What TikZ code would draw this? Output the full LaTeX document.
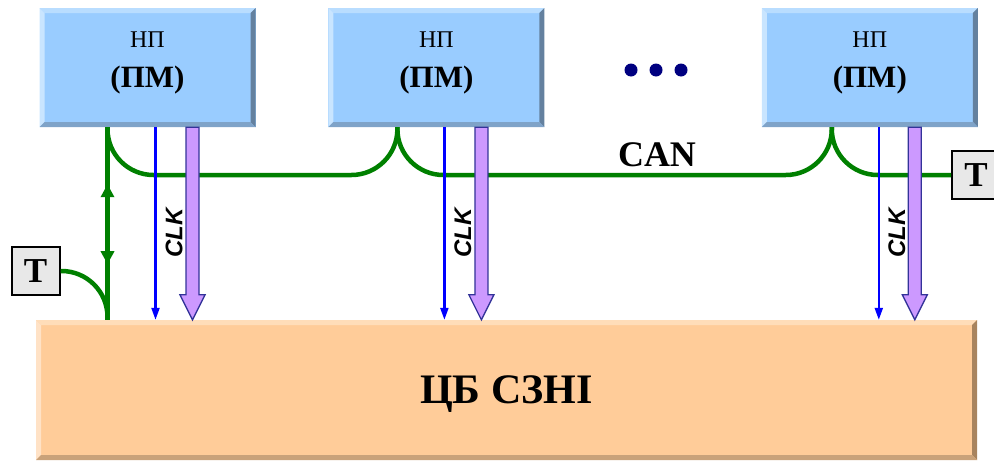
\documentclass[tikz,border=0pt]{standalone}
\usepackage{fontspec}
\setmainfont{Liberation Serif}
\newfontfamily\clkfont{Liberation Sans}
\usetikzlibrary{arrows.meta,calc,positioning,decorations.markings}

\definecolor{npfill}{HTML}{99CCFF}
\definecolor{nptop}{HTML}{B9DDFF}
\definecolor{npleft}{HTML}{C9E5FF}
\definecolor{npright}{HTML}{64819F}
\definecolor{npbottom}{HTML}{7FA3C8}
\definecolor{zbfill}{HTML}{FFCC99}
\definecolor{zbtop}{HTML}{FFDDB9}
\definecolor{zbleft}{HTML}{FFE2C6}
\definecolor{zbright}{HTML}{A8845F}
\definecolor{zbbottom}{HTML}{C9A27A}
\definecolor{cangreen}{HTML}{008000}
\definecolor{clkblue}{HTML}{0000FF}
\definecolor{fatfill}{HTML}{CC99FF}
\definecolor{fatline}{HTML}{333399}
\definecolor{tfill}{HTML}{E8E8E8}
\definecolor{dotblue}{HTML}{000080}

\tikzset{
  bevelbox/.style n args={5}{fill=#1,path picture={
    \def\pb{path picture bounding box}
    \fill[#2] (\pb.north west) -- (\pb.north east) -- ([shift={(-5pt,-5pt)}]\pb.north east) -- ([shift={(5pt,-5pt)}]\pb.north west) -- cycle;
    \fill[#3] (\pb.north west) -- ([shift={(5pt,-5pt)}]\pb.north west) -- ([shift={(5pt,5pt)}]\pb.south west) -- (\pb.south west) -- cycle;
    \fill[#4] (\pb.north east) -- (\pb.south east) -- ([shift={(-5pt,5pt)}]\pb.south east) -- ([shift={(-5pt,-5pt)}]\pb.north east) -- cycle;
    \fill[#5] (\pb.south west) -- ([shift={(5pt,5pt)}]\pb.south west) -- ([shift={(-5pt,5pt)}]\pb.south east) -- (\pb.south east) -- cycle;}}
}

% thick lilac arrow: #1 top coordinate, #2 bottom node
\newcommand\fatarrow[2]{%
  \filldraw[fatarrow] ($(#1)+(-6.5,0)$) -- ($(#1 |- #2.north)+(-6.5,-25)$)
    -- ($(#1 |- #2.north)+(-12.5,-25)$) -- (#1 |- #2.north)
    -- ($(#1 |- #2.north)+(12.5,-25)$) -- ($(#1 |- #2.north)+(6.5,-25)$)
    -- ($(#1)+(6.5,0)$) -- cycle;}

\begin{document}
\begin{tikzpicture}[x=1pt,y=-1pt,
  npbox/.style={bevelbox={npfill}{nptop}{npleft}{npright}{npbottom},
    minimum width=216pt,minimum height=119pt,inner sep=0pt,align=center,
    text depth=16pt,font=\fontsize{24}{40}\selectfont},
  zbbox/.style={bevelbox={zbfill}{zbtop}{zbleft}{zbright}{zbbottom},
    minimum width=941pt,minimum height=140pt,inner sep=0pt,text depth=0pt,
    font=\fontsize{42}{48}\selectfont\bfseries},
  tbox/.style={draw=black,line width=2pt,fill=tfill,minimum width=48pt,
    minimum height=48pt,inner sep=0pt,font=\fontsize{35}{40}\selectfont\bfseries},
  bus/.style={draw=cangreen,color=cangreen,line width=4.5pt},
  clk/.style={draw=clkblue,color=clkblue,line width=2.2pt,
    -{Triangle[width=8pt,length=12pt]}},
  fatarrow/.style={fill=fatfill,draw=fatline,line width=1.3pt,line join=miter},
  clklabel/.style={rotate=90,inner sep=0pt,
    font=\clkfont\fontsize{24}{28}\selectfont\bfseries\itshape},
  canlabel/.style={inner sep=0pt,font=\fontsize{36}{40}\selectfont\bfseries}]
\useasboundingbox (0,0) rectangle (994,461);

\node[npbox] (np1) at (147.5,67.5) {НП\\{\fontsize{31}{40}\selectfont\bfseries(ПМ)}};
\node[npbox,right=72.5pt of np1] (np2) {НП\\{\fontsize{31}{40}\selectfont\bfseries(ПМ)}};
\node[npbox,right=217pt of np2] (np3) {НП\\{\fontsize{31}{40}\selectfont\bfseries(ПМ)}};
\node[zbbox] (zb) at (506.5,390) {ЦБ СЗНІ};
\node[tbox] (t1) at (35.5,271) {T};
\node[tbox] (t2) at (976,175) {T};
\node[canlabel] (can) at (657,155) {CAN};
\fill[dotblue] (631,70) circle (6.5pt) (656,70) circle (6.5pt) (681,70) circle (6.5pt);

\coordinate (j1) at ($(np1.south)+(-40,0)$);
\coordinate (j2) at ($(np2.south)+(-39,0)$);
\coordinate (j3) at ($(np3.south)+(-38,0)$);
\coordinate (c1) at ($(np1.south)+(8,0)$);
\coordinate (c2) at ($(np2.south)+(8,0)$);
\coordinate (c3) at ($(np3.south)+(9,0)$);
\coordinate (f1) at ($(np1.south)+(45,0)$);
\coordinate (f2) at ($(np2.south)+(45,0)$);
\coordinate (f3) at ($(np3.south)+(45,0)$);

% CAN bus
\draw[bus,postaction={decorate},decoration={markings,
  mark=at position 57pt with {\arrowreversed{Triangle[width=13pt,length=13pt]}},
  mark=at position 137pt with {\arrow{Triangle[width=13pt,length=13pt]}}}]
  (j1) -- (j1 |- zb.north);
\draw[bus,rounded corners=46pt] (t1.east) -| (j1 |- zb.north);
\draw[bus,rounded corners=46pt] (j1) |- (j2 |- t2.west) -- (j2);
\draw[bus,rounded corners=46pt] (j2) |- (j3 |- t2.west) -- (j3);
\draw[bus,rounded corners=46pt] (j3) |- (t2.west);

% clock lines
\draw[clk] (c1) -- (c1 |- zb.north);
\draw[clk] (c2) -- (c2 |- zb.north);
\draw[clk] (c3) -- (c3 |- zb.north);
\fatarrow{f1}{zb}
\fatarrow{f2}{zb}
\fatarrow{f3}{zb}
\node[clklabel] (l1) at ($(np1.south)+(26.5,106)$) {CLK};
\node[clklabel] (l2) at ($(np2.south)+(26.5,106)$) {CLK};
\node[clklabel] (l3) at ($(np3.south)+(27,106)$) {CLK};
\end{tikzpicture}
\end{document}
